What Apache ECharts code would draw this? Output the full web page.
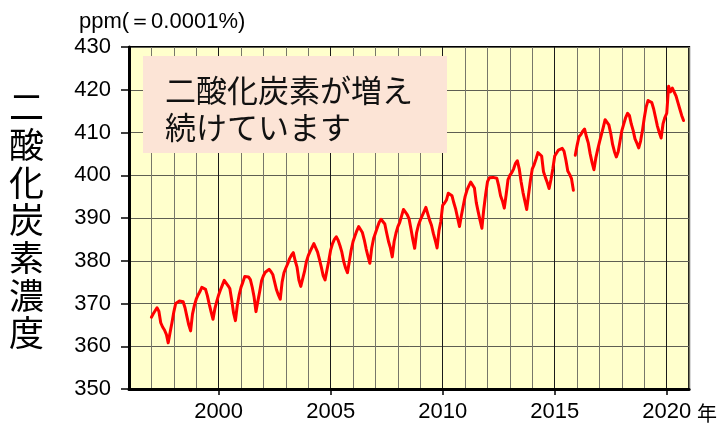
<!DOCTYPE html>
<html>
<head>
<meta charset="utf-8">
<script src="https://cdn.jsdelivr.net/npm/echarts@6/dist/echarts.min.js"></script>
<style>
html,body{margin:0;padding:0;background:#ffffff;}
#chart{width:720px;height:428px;}
</style>
</head>
<body>
<div id="chart"></div>
<script>
// ---- data (monthly CO2 concentration, ppm) ----
// part 1: Jan 1997 .. Nov 2015
const part1StartYear = 1997;
const co2Part1 = [
  366.8, 367.6, 368.3, 369.0, 368.2, 365.5, 364.5, 363.8, 362.8, 360.8, 363.2, 365.5, // 1997
  368.0, 370.0, 370.4, 370.6, 370.2, 370.4, 369.0, 367.0, 365.0, 363.6, 367.5, 369.5, // 1998
  371.0, 372.0, 372.8, 373.8, 373.9, 373.3, 371.8, 369.8, 368.0, 366.3, 368.8, 370.5, // 1999
  372.0, 373.2, 374.3, 375.4, 375.3, 374.2, 373.5, 370.8, 367.8, 366.0, 369.6, 372.0, // 2000
  373.8, 375.0, 376.3, 376.7, 376.2, 375.6, 373.8, 371.5, 368.1, 370.5, 372.8, 375.3, // 2001
  376.5, 377.3, 377.6, 378.0, 377.5, 376.8, 375.0, 373.2, 372.0, 371.0, 375.0, 377.2, // 2002
  378.3, 379.3, 380.5, 381.3, 381.9, 380.0, 378.5, 375.5, 374.0, 373.6, 377.5, 379.8, // 2003
  381.2, 382.2, 382.6, 384.0, 383.6, 382.0, 380.3, 378.5, 376.5, 375.5, 377.8, 380.0, // 2004
  382.5, 384.0, 385.0, 385.6, 384.8, 383.5, 382.0, 379.8, 378.3, 377.2, 379.8, 382.5, // 2005
  384.5, 385.8, 387.0, 388.0, 388.3, 386.6, 384.9, 382.8, 381.0, 379.4, 383.0, 385.2, // 2006
  386.5, 387.8, 389.0, 389.7, 389.4, 388.6, 386.5, 384.5, 383.0, 380.9, 384.5, 386.5, // 2007
  388.0, 389.0, 390.5, 392.0, 392.0, 390.8, 389.8, 387.5, 385.0, 382.9, 386.5, 388.3, // 2008
  389.5, 390.5, 391.5, 392.5, 392.8, 389.5, 388.3, 386.4, 384.8, 383.0, 387.0, 389.2, // 2009
  393.0, 393.5, 394.2, 395.8, 396.2, 395.2, 393.5, 392.0, 390.0, 388.0, 390.5, 392.8, // 2010
  395.0, 396.5, 397.5, 398.4, 398.2, 397.0, 393.6, 391.5, 389.5, 387.6, 392.0, 395.5, // 2011
  398.5, 399.4, 399.5, 399.5, 399.5, 399.3, 397.5, 395.2, 394.0, 392.3, 395.5, 399.0, // 2012
  400.0, 400.6, 401.5, 402.8, 403.4, 401.5, 398.5, 396.0, 394.0, 392.0, 395.5, 398.8, // 2013
  401.5, 402.5, 403.8, 405.3, 405.5, 404.5, 400.8, 399.5, 398.3, 396.9, 399.0, 401.5, // 2014
  404.5, 405.2, 405.9, 406.1, 406.3, 405.6, 403.5, 401.0, 400.2, 399.2, 396.5         // 2015 (Jan-Nov)
];
// part 2: Dec 2015 .. Oct 2020
const part2StartYear = 2015 + 11 / 12;
const co2Part2 = [
  404.7,                                                                              // 2015 Dec
  407.0, 409.0, 409.5, 410.3, 410.8, 409.0, 407.5, 405.0, 403.0, 401.3, 404.0, 406.0, // 2016
  407.8, 409.5, 411.2, 413.0, 413.2, 411.8, 409.8, 407.2, 405.5, 404.3, 405.5, 408.0, // 2017
  410.5, 412.0, 413.5, 414.5, 414.0, 412.0, 410.5, 408.5, 407.5, 406.4, 408.0, 410.5, // 2018
  413.5, 416.0, 417.5, 417.8, 417.0, 415.5, 413.5, 411.5, 410.0, 408.7, 412.0, 413.5, // 2019
  414.5, 420.8, 419.5, 420.4, 420.0, 418.5, 417.0, 415.5, 414.0, 412.8                // 2020 (Jan-Oct)
];
const xLabelYears = [2000, 2005, 2010, 2015, 2020];
const unitText = 'ppm(＝0.0001%)';
const yTitleText = '二酸化炭素濃度';
const noteLines = ['二酸化炭素が増え', '続けています'];
const xUnitText = '年';

const toPairs = (start, arr) => arr.map((v, i) => [start + i / 12, v]);

const numFont = "'Liberation Sans', Arial, sans-serif";
const jpFont = "'Noto Sans CJK JP', sans-serif";

const chart = echarts.init(document.getElementById('chart'), null, {renderer: 'canvas'});
const option = {
  animation: false,
  backgroundColor: '#ffffff',
  title: [
    {
      text: unitText, left: 79, top: 11, padding: 0,
      textStyle: {fontSize: 22, fontWeight: 'normal', color: '#000', fontFamily: numFont}
    },
    {
      text: yTitleText.split('').join('\n'), left: 9, top: 88, padding: 0,
      textStyle: {fontSize: 35, lineHeight: 37.7, fontWeight: 'normal', color: '#000', fontFamily: jpFont}
    },
    {
      text: noteLines.join('\n'), left: 143, top: 56,
      padding: [16, 34, 7, 22], backgroundColor: '#FCE4D6',
      textStyle: {fontSize: 31, lineHeight: 37, fontWeight: 'normal', color: '#111', fontFamily: jpFont}
    }
  ],
  grid: {
    left: 129, right: 28, top: 47, bottom: 39,
    show: true, backgroundColor: '#FFFFCC', borderColor: '#000', borderWidth: 2
  },
  xAxis: [
    {
      type: 'value', min: 1996, max: 2021, interval: 1, position: 'bottom',
      axisLine: {show: true, onZero: false, lineStyle: {color: '#000', width: 3}},
      axisTick: {show: false},
      axisLabel: {show: false},
      splitLine: {show: true, lineStyle: {color: ['#77776a', '#77776a', '#77776a', '#77776a', '#1a1a1a'], width: 1}}
    },
    {
      type: 'value', min: 1996, max: 2021, position: 'bottom',
      axisLine: {show: false},
      axisTick: {show: true, customValues: xLabelYears, length: 6, lineStyle: {color: '#000', width: 1.5}},
      axisLabel: {
        show: true, customValues: xLabelYears, margin: 12,
        fontSize: 22, color: '#000', fontFamily: numFont,
        formatter: v => (v % 5 === 0 ? String(v) : '')
      },
      splitLine: {show: false},
      name: xUnitText, nameLocation: 'end', nameGap: 7,
      nameTextStyle: {fontSize: 20, color: '#000', fontFamily: jpFont, verticalAlign: 'top', padding: [14, 0, 0, 0]}
    }
  ],
  yAxis: {
    type: 'value', min: 350, max: 430, interval: 10,
    axisLine: {show: true, lineStyle: {color: '#000', width: 3}},
    axisTick: {show: true, length: 8, lineStyle: {color: '#000', width: 1.5}},
    axisLabel: {margin: 18, fontSize: 22, color: '#000', fontFamily: numFont},
    splitLine: {show: true, lineStyle: {color: '#5e5e52', width: 1}}
  },
  series: [
    {
      type: 'line', xAxisIndex: 0, data: toPairs(part1StartYear, co2Part1),
      symbol: 'none', showSymbol: false, smooth: false,
      lineStyle: {color: '#FF0000', width: 3, join: 'round', cap: 'round'},
      itemStyle: {color: '#FF0000'}, z: 3
    },
    {
      type: 'line', xAxisIndex: 0, data: toPairs(part2StartYear, co2Part2),
      symbol: 'none', showSymbol: false, smooth: false,
      lineStyle: {color: '#FF0000', width: 3, join: 'round', cap: 'round'},
      itemStyle: {color: '#FF0000'}, z: 3
    }
  ]
};
chart.setOption(option);
</script>
</body>
</html>
